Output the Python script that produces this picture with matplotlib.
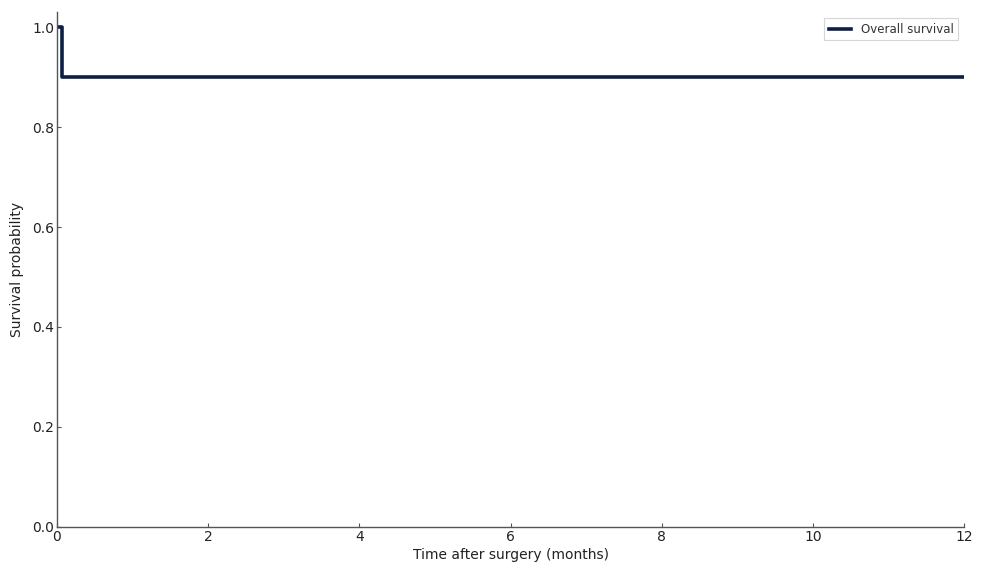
import matplotlib
matplotlib.use("Agg")
import matplotlib.pyplot as plt

# Kaplan-Meier steps (months, survival)
times = [0.0, 0.07, 12.0]
survival = [1.0, 0.9, 0.9]

fig = plt.figure(figsize=(9.86, 5.75), dpi=100)
ax = fig.add_axes([0.0578, 0.0835, 0.9199, 0.8956])

ax.step(times, survival, where="post", color="#0d1f45", linewidth=2.6,
        label="Overall survival")

ax.set_xlim(0, 12)
ax.set_ylim(0, 1.03)
ax.set_xticks(range(0, 13, 2))
ax.set_yticks([0.0, 0.2, 0.4, 0.6, 0.8, 1.0])
ax.set_xlabel("Time after surgery (months)", fontsize=10, color="#222222", labelpad=3)
ax.set_ylabel("Survival probability", fontsize=10, color="#222222", labelpad=6)

for side in ("top", "right"):
    ax.spines[side].set_visible(False)
for side in ("left", "bottom"):
    ax.spines[side].set_color("#555555")
    ax.spines[side].set_linewidth(1.0)
ax.tick_params(direction="in", length=3, color="#555555", labelsize=10,
               labelcolor="#222222", pad=2)

leg = ax.legend(loc="upper right", fontsize=8.5, frameon=True, fancybox=False,
                edgecolor="#cccccc", handlelength=1.9, labelcolor="#333333")
leg.get_frame().set_linewidth(0.8)

fig.savefig("out.png", dpi=100)
